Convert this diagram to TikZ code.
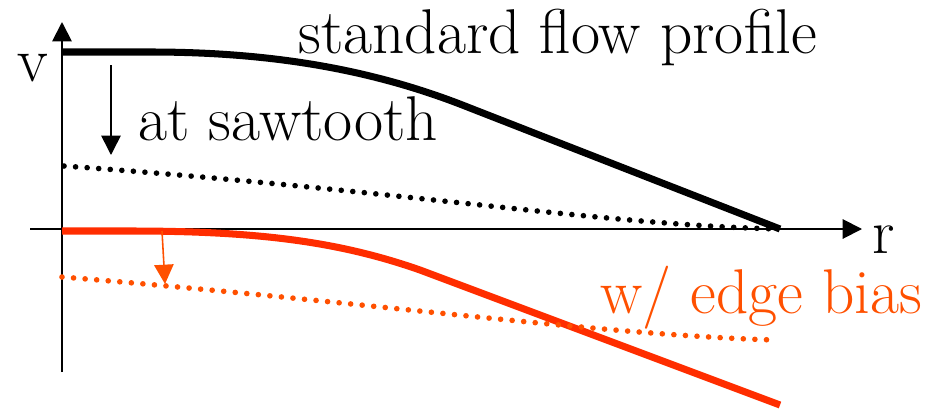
\documentclass[tikz,border=0pt]{standalone}
\usepackage{tikz}
\usetikzlibrary{arrows.meta}

\definecolor{biasred}{RGB}{255,45,0}
\definecolor{biasorange}{RGB}{255,80,0}

\begin{document}
\begin{tikzpicture}[x=0.02cm, y=-0.02cm,
	axis/.style={line width=1.1pt, -{Triangle[length=11pt, width=11pt]}},
	profile/.style={line width=4pt},
	dotline/.style={line width=3.2pt, line cap=round, dash pattern=on 0pt off 6.6pt},
	droparrow/.style={line width=0.9pt, -{Triangle[length=11pt, width=11pt]}},
	lbl/.style={inner sep=0pt, anchor=base west, font=\fontsize{36}{40}\selectfont}]

	\useasboundingbox (0,0) rectangle (935,409);

	%axes

	\coordinate (origin) at (62,229);
	\coordinate (vtop) at (62,22);
	\coordinate (vbot) at (62,372);
	\coordinate (rleft) at (30,229);
	\coordinate (rend) at (862,229);
	\draw[axis] (vbot) -- (vtop);
	\draw[axis] (rleft) -- (rend);
	\node[lbl] (vlabel) at (17,81) {v};
	\node[lbl] (rlabel) at (872,253) {r};


	%standard profile

	\draw[profile] (62,52) -- (150,52) .. controls (280,52) and (380,72) .. (470,108) -- (780,229);
	\draw[dotline] (64,166) .. controls (400,190) and (600,225) .. (780,229);
	\coordinate (sawtop) at (111,65);
	\coordinate (sawbot) at (111,155);
	\draw[droparrow] (sawtop) -- (sawbot);
	\node[lbl] (stdlabel) at (298,53) {standard flow profile};
	\node[lbl] (sawlabel) at (138,140) {at sawtooth};


	%edge bias profile

	\draw[profile, biasred] (62,231) -- (130,231) .. controls (260,231) and (340,242) .. (420,270) -- (780,405);
	\draw[dotline, biasorange] (62,277) .. controls (350,300) and (600,335) .. (775,340);
	\coordinate (biastop) at (162,231);
	\coordinate (biasbot) at (165,284);
	\draw[droparrow, biasorange] (biastop) -- (biasbot);
	\node[lbl, text=biasorange] (biaslabel) at (600,313) {w/ edge bias};

\end{tikzpicture}
\end{document}
